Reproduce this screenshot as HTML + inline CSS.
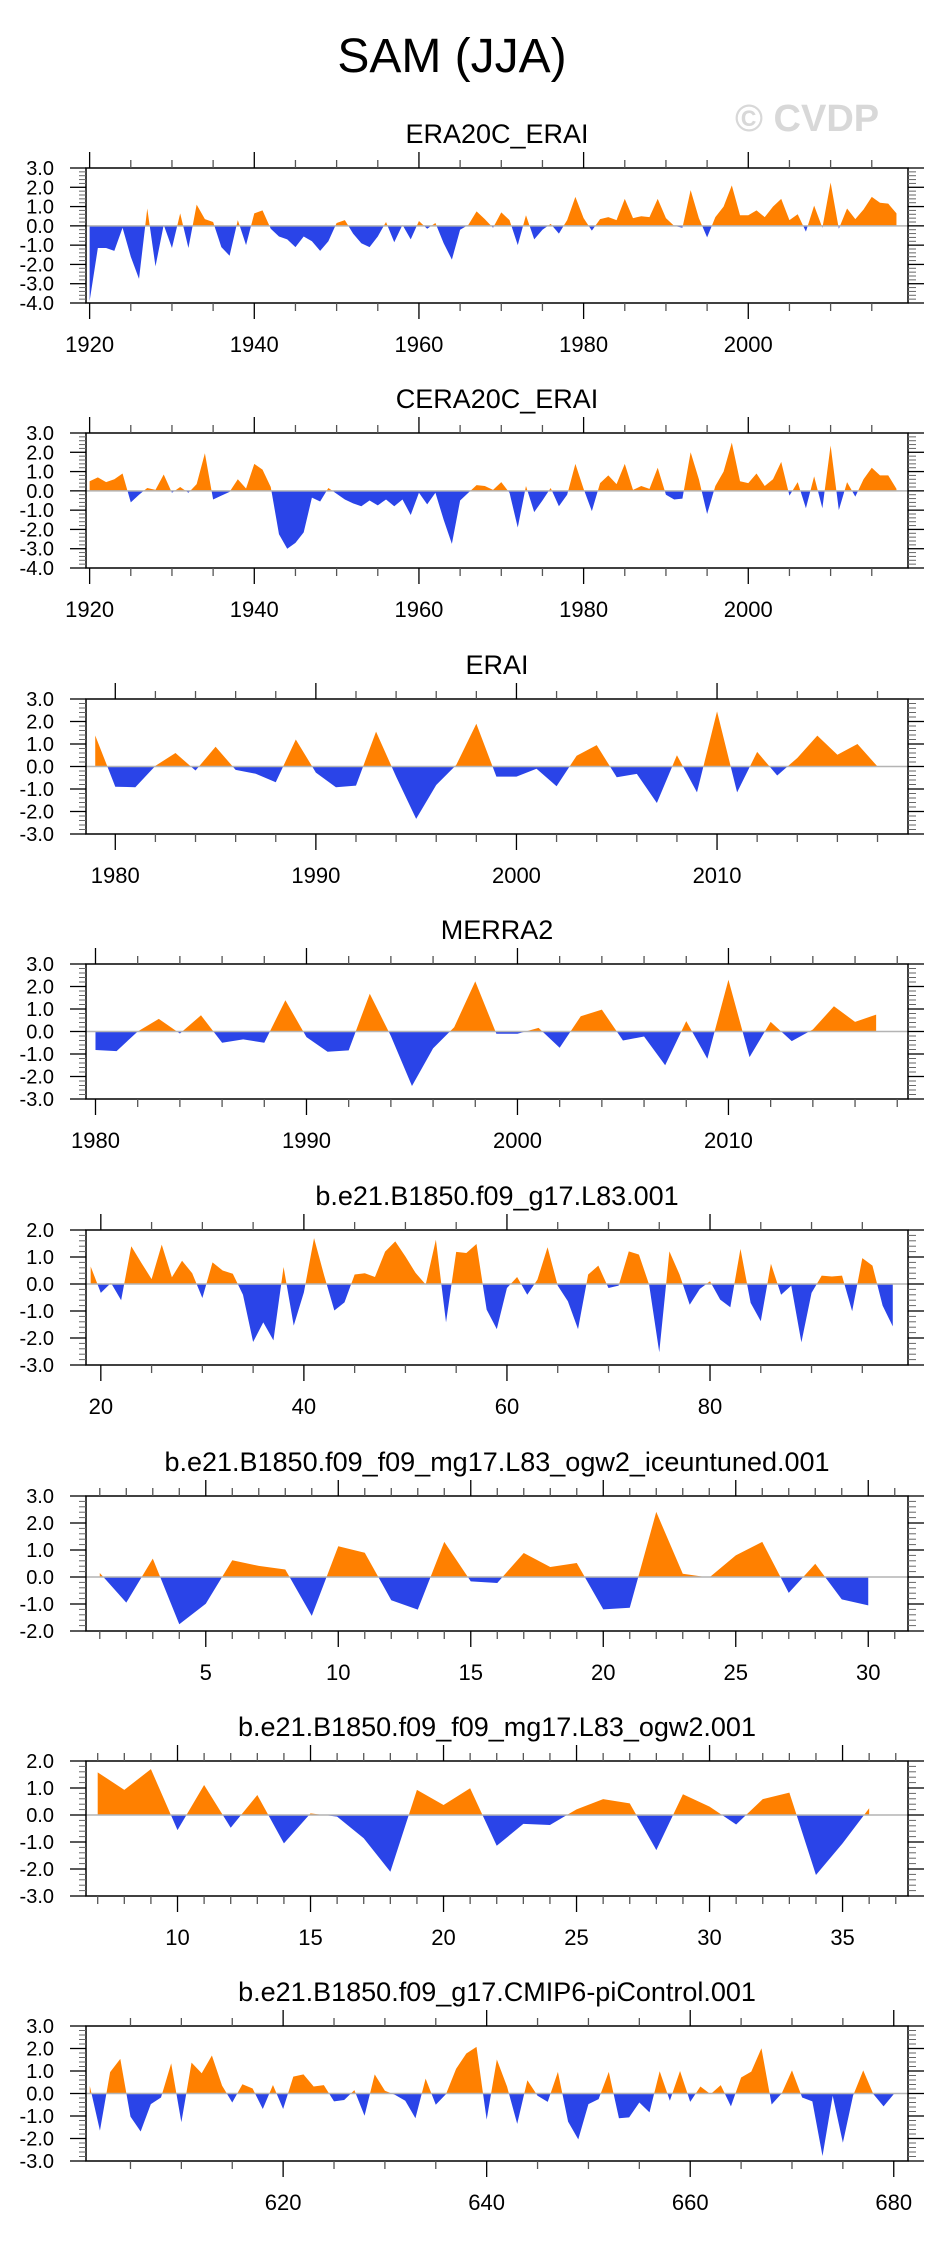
<!DOCTYPE html>
<html>
<head>
<meta charset="utf-8">
<style>
html,body{margin:0;padding:0;background:#fff;}
svg{display:block;}
text{font-family:"Liberation Sans",Arial,sans-serif;}
</style>
</head>
<body>
<svg id="chart" xmlns="http://www.w3.org/2000/svg" width="930" height="2241" viewBox="0 0 930 2241">
<rect x="0" y="0" width="930" height="2241" fill="#fff"/>
<text x="452" y="72" font-size="48" text-anchor="middle" fill="#000">SAM (JJA)</text>
<text x="735" y="131" font-size="38" font-weight="bold" fill="#d8d8d8">© CVDP</text>
<g id="panels"></g>
</svg>
<script>
// ---- data ----
const era20cStart = 1920;
const era20cValues = [-3.9,-1.15,-1.15,-1.3,-0.1,-1.6,-2.75,0.9,-2.1,0.05,-1.15,0.65,-1.15,1.1,0.35,0.2,-1.1,-1.55,0.3,-1.0,
0.65,0.8,-0.15,-0.55,-0.7,-1.1,-0.55,-0.8,-1.3,-0.8,0.15,0.3,-0.4,-0.9,-1.1,-0.55,0.2,-0.85,0.05,-0.7,
0.25,-0.15,0.15,-0.9,-1.75,-0.2,0.05,0.75,0.35,-0.1,0.7,0.3,-1.0,0.55,-0.7,-0.2,0.1,-0.4,0.3,1.5,
0.4,-0.25,0.35,0.45,0.3,1.4,0.4,0.5,0.45,1.4,0.4,0.0,-0.1,1.85,0.4,-0.6,0.45,1.0,2.1,0.55,
0.55,0.8,0.45,1.0,1.4,0.3,0.6,-0.3,1.05,-0.1,2.25,-0.15,0.9,0.35,0.85,1.5,1.2,1.15,0.65];

const cera20cStart = 1920;
const cera20cValues = [0.5,0.7,0.45,0.6,0.9,-0.6,-0.2,0.15,0.05,0.85,-0.1,0.2,-0.1,0.35,1.95,-0.45,-0.25,-0.05,0.6,0.12,
1.4,1.1,0.2,-2.25,-3.0,-2.7,-2.15,-0.35,-0.55,0.15,-0.15,-0.45,-0.65,-0.8,-0.5,-0.75,-0.45,-0.8,-0.45,-1.25,
-0.1,-0.7,-0.1,-1.5,-2.75,-0.5,-0.1,0.3,0.25,0.05,0.45,-0.1,-1.9,0.25,-1.1,-0.5,0.15,-0.8,-0.2,1.4,
0.1,-1.05,0.4,0.8,0.35,1.4,0.05,0.25,0.1,1.2,-0.2,-0.45,-0.4,2.0,0.6,-1.2,0.25,1.0,2.5,0.5,
0.4,0.9,0.25,0.6,1.5,-0.25,0.45,-0.9,0.75,-0.9,2.35,-1.0,0.45,-0.3,0.6,1.2,0.8,0.8,0.1];

const eraiStart = 1979;
const eraiValues = [1.38,-0.9,-0.92,0.03,0.6,-0.18,0.88,-0.15,-0.32,-0.7,1.2,-0.27,-0.92,-0.85,1.55,-0.45,-2.33,-0.82,0.07,1.9,
-0.45,-0.45,-0.1,-0.88,0.48,0.95,-0.48,-0.33,-1.62,0.5,-1.15,2.45,-1.15,0.65,-0.4,0.38,1.37,0.52,1.0,0.0];

const merra2Start = 1980;
const merra2Values = [-0.82,-0.87,0.0,0.56,-0.09,0.72,-0.5,-0.35,-0.5,1.39,-0.25,-0.9,-0.84,1.68,-0.2,-2.42,-0.75,0.19,2.23,-0.1,
-0.1,0.16,-0.72,0.68,0.97,-0.4,-0.22,-1.5,0.46,-1.21,2.3,-1.14,0.43,-0.43,0.09,1.12,0.43,0.75];

const l83Start = 19;
const l83Values = [0.65,-0.33,0.04,-0.6,1.4,0.78,0.18,1.46,0.25,0.86,0.4,-0.52,0.8,0.5,0.38,-0.4,-2.15,-1.42,-2.09,0.63,
-1.54,-0.31,1.7,0.31,-0.98,-0.68,0.35,0.4,0.26,1.2,1.58,1.02,0.41,-0.02,1.64,-1.42,1.19,1.15,1.48,-0.95,
-1.67,-0.15,0.26,-0.4,0.16,1.36,-0.06,-0.64,-1.67,0.35,0.68,-0.15,-0.06,1.21,1.09,-0.02,-2.53,1.21,0.35,-0.77,
-0.18,0.1,-0.58,-0.86,1.3,-0.7,-1.38,0.75,-0.4,-0.06,-2.16,-0.33,0.31,0.28,0.31,-1.01,0.96,0.68,-0.8,-1.57];

const iceStart = 1;
const iceValues = [0.15,-0.95,0.68,-1.75,-0.99,0.62,0.41,0.28,-1.44,1.14,0.9,-0.86,-1.21,1.3,-0.16,-0.22,0.89,0.37,0.52,-1.2,
-1.14,2.41,0.12,-0.02,0.8,1.3,-0.59,0.49,-0.83,-1.05];

const ogw2Start = 7;
const ogw2Values = [1.58,0.93,1.7,-0.56,1.11,-0.47,0.74,-1.05,0.06,-0.06,-0.86,-2.1,0.93,0.37,0.99,-1.14,-0.33,-0.37,0.21,0.59,
0.43,-1.3,0.77,0.31,-0.35,0.59,0.83,-2.22,-1.05,0.25];

const picStart = 601;
const picValues = [0.34,-1.65,0.95,1.54,-1.03,-1.69,-0.47,-0.18,1.34,-1.28,1.37,0.9,1.69,0.35,-0.4,0.41,0.22,-0.69,0.38,-0.69,
0.75,0.85,0.31,0.37,-0.35,-0.29,0.15,-0.99,0.85,0.12,-0.06,-0.32,-1.1,0.66,-0.5,-0.03,1.1,1.78,2.07,-1.16,
1.51,0.31,-1.35,0.59,-0.1,-0.37,0.96,-1.25,-2.04,-0.47,-0.25,0.96,-1.1,-1.06,-0.4,-0.84,0.99,-0.32,1.0,-0.37,
0.31,-0.03,0.37,-0.57,0.71,0.97,2.01,-0.49,0.01,1.03,-0.18,-0.35,-2.78,-0.1,-2.19,-0.1,1.03,-0.03,-0.57,-0.03];

// ---- layout ----
const panelConfigs = [
 {key:'era20c', title:'ERA20C_ERAI', start:era20cStart, values:era20cValues, top:168, xmin:1919.56, xmax:2019.4, ymin:-4, ymax:3, major:20, minor:5},
 {key:'cera20c', title:'CERA20C_ERAI', start:cera20cStart, values:cera20cValues, top:433, xmin:1919.56, xmax:2019.4, ymin:-4, ymax:3, major:20, minor:5},
 {key:'erai', title:'ERAI', start:eraiStart, values:eraiValues, top:699, xmin:1978.54, xmax:2019.52, ymin:-3, ymax:3, major:10, minor:2},
 {key:'merra2', title:'MERRA2', start:merra2Start, values:merra2Values, top:964, xmin:1979.55, xmax:2018.51, ymin:-3, ymax:3, major:10, minor:2},
 {key:'l83', title:'b.e21.B1850.f09_g17.L83.001', start:l83Start, values:l83Values, top:1230, xmin:18.54, xmax:99.5, ymin:-3, ymax:2, major:20, minor:5},
 {key:'iceuntuned', title:'b.e21.B1850.f09_f09_mg17.L83_ogw2_iceuntuned.001', start:iceStart, values:iceValues, top:1496, xmin:0.48, xmax:31.5, ymin:-2, ymax:3, major:5, minor:1},
 {key:'ogw2', title:'b.e21.B1850.f09_f09_mg17.L83_ogw2.001', start:ogw2Start, values:ogw2Values, top:1761, xmin:6.56, xmax:37.46, ymin:-3, ymax:2, major:5, minor:1},
 {key:'picontrol', title:'b.e21.B1850.f09_g17.CMIP6-piControl.001', start:picStart, values:picValues, top:2026, xmin:600.63, xmax:681.4, ymin:-3, ymax:3, major:20, minor:5}
];

const NS = 'http://www.w3.org/2000/svg';
const L = 86, R = 908, H = 135;
const root = document.getElementById('panels');
const defs = document.createElementNS(NS, 'defs');
root.appendChild(defs);

function mk(tag, attrs, parent) {
  const e = document.createElementNS(NS, tag);
  for (const k in attrs) e.setAttribute(k, attrs[k]);
  parent.appendChild(e);
  return e;
}
function fmt(v) { return (Math.abs(v) < 1e-9 ? 0 : v).toFixed(1); }

panelConfigs.forEach(function (c) {
  const top = c.top, bot = top + H;
  const sx = function (t) { return L + (t - c.xmin) / (c.xmax - c.xmin) * (R - L); };
  const sy = function (v) { return top + (c.ymax - v) / (c.ymax - c.ymin) * H; };
  const y0 = sy(0);

  const g = mk('g', {}, root);
  
  

  const title = mk('text', {x: (L + R) / 2, y: top - 25, 'font-size': 27, 'text-anchor': 'middle', fill: '#000'}, g);
  title.textContent = c.title;
  
  

  // clip paths
  const cpA = mk('clipPath', {id: 'ca-' + c.key}, defs);
  mk('rect', {x: L, y: top, width: R - L, height: y0 - top}, cpA);
  const cpB = mk('clipPath', {id: 'cb-' + c.key}, defs);
  mk('rect', {x: L, y: y0, width: R - L, height: bot - y0}, cpB);

  const n = c.values.length;
  let pts = sx(c.start).toFixed(2) + ',' + y0.toFixed(2);
  for (let i = 0; i < n; i++) pts += ' ' + sx(c.start + i).toFixed(2) + ',' + sy(c.values[i]).toFixed(2);
  pts += ' ' + sx(c.start + n - 1).toFixed(2) + ',' + y0.toFixed(2);

  const pa = mk('polygon', {points: pts, fill: '#ff8000', 'clip-path': 'url(#ca-' + c.key + ')'}, g);
  
  
  const pb = mk('polygon', {points: pts, fill: '#2a44e8', 'clip-path': 'url(#cb-' + c.key + ')'}, g);
  
  

  const zl = mk('line', {x1: L, x2: R, y1: y0, y2: y0, stroke: '#b4b4b4', 'stroke-width': 1.5}, g);
  
  

  const box = mk('rect', {x: L, y: top, width: R - L, height: H, fill: 'none', stroke: '#000', 'stroke-width': 1.5}, g);
  
  

  const tk = mk('g', {stroke: '#000', 'stroke-width': 1.3}, g);
  
  

  // y ticks
  for (let m = Math.round(c.ymin * 5); m <= Math.round(c.ymax * 5); m++) {
    const v = m / 5, y = sy(v);
    if (m % 5 === 0) {
      mk('line', {x1: 70, x2: L, y1: y, y2: y}, tk);
      mk('line', {x1: R, x2: 924, y1: y, y2: y}, tk);
      const lab = mk('text', {x: 54, y: y + 7, 'font-size': 20, 'text-anchor': 'end', fill: '#000'}, g);
      lab.textContent = fmt(v);
      
      
    } else {
      mk('line', {x1: 79, x2: L, y1: y, y2: y, 'stroke-width': 1, stroke: '#666'}, tk);
      mk('line', {x1: R, x2: 916, y1: y, y2: y, 'stroke-width': 1, stroke: '#666'}, tk);
    }
  }
  // x ticks
  for (let t = Math.ceil(c.xmin / c.minor) * c.minor; t <= c.xmax; t += c.minor) {
    const x = sx(t);
    if (t % c.major === 0) {
      mk('line', {x1: x, x2: x, y1: top - 16, y2: top}, tk);
      mk('line', {x1: x, x2: x, y1: bot, y2: bot + 16}, tk);
      const lab = mk('text', {x: x, y: bot + 49, 'font-size': 22, 'text-anchor': 'middle', fill: '#000'}, g);
      lab.textContent = String(t);
      
      
    } else {
      mk('line', {x1: x, x2: x, y1: top - 8, y2: top, stroke: '#555'}, tk);
      mk('line', {x1: x, x2: x, y1: bot, y2: bot + 8, stroke: '#555'}, tk);
    }
  }
});
</script>
</body>
</html>
